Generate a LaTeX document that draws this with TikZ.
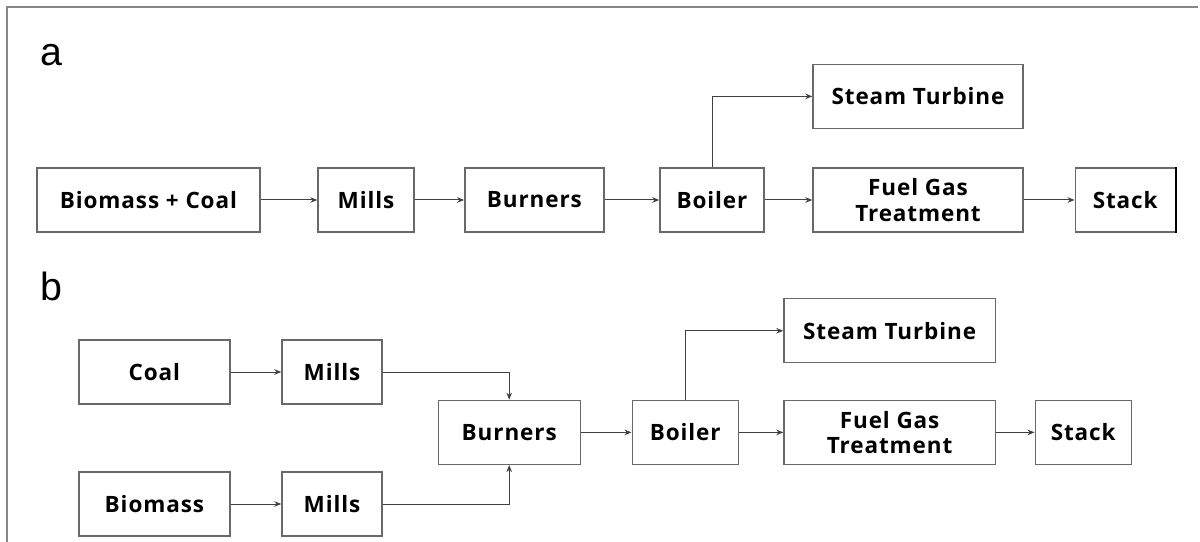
\documentclass[tikz,border=0pt]{standalone}
\usepackage{fontspec}
\setsansfont{Open Sans}[LetterSpace=4]
\newfontfamily\panelfont{Liberation Sans}
\usepackage{xcolor}
\usepackage{tikz}
\usetikzlibrary{positioning, arrows.meta}
\definecolor{boxgray}{RGB}{105,105,105}
\definecolor{framegray}{RGB}{135,135,135}

\begin{document}
\begin{tikzpicture}[
    unit/.style={rectangle, draw=boxgray, line width=1pt, fill=white, minimum height=1.6cm, align=center, font=\sffamily\bfseries\fontsize{16}{18}\selectfont},
    flow/.style={draw=black!75, line width=0.7pt, -{Stealth[length=5pt, width=4pt]}},
    panel/.style={inner sep=0pt, font=\panelfont\fontsize{28}{30}\selectfont}
  ]
    \useasboundingbox (0,0) rectangle (30,13.55);
    \draw[framegray, line width=1.4pt] (0.175,0) -- (0.175,13.375) -- (29.95,13.375);

    % a: co-firing in one line
    \node[panel] (la) at (1.28,12.17) {a};
    \node[unit, minimum width=5.58cm] (bc) at (3.71,8.55) {Biomass + Coal};
    \node[unit, minimum width=2.4cm] (mills) at (9.15,8.55) {Mills};
    \node[unit, minimum width=3.48cm] (burners) at (13.36,8.55) {Burners};
    \node[unit, minimum width=2.6cm] (boiler) at (17.8,8.55) {Boiler};
    \node[unit, minimum width=5.25cm] (turbine) at (22.95,11.14) {Steam Turbine};
    \node[unit, minimum width=5.25cm] (fgt) at (22.95,8.55) {Fuel Gas\\Treatment};
    \node[unit, minimum width=2.5cm] (stack) at (28.13,8.55) {Stack};
    \draw[black, line width=2pt] (stack.north east) -- (stack.south east);
    \draw[flow] (bc) -- (mills);
    \draw[flow] (mills) -- (burners);
    \draw[flow] (burners) -- (boiler);
    \draw[flow] (boiler) -- (fgt);
    \draw[flow] (fgt) -- (stack);
    \draw[flow] (boiler.north) |- (turbine.west);

    % b: separate milling
    \node[panel] (lb) at (1.28,6.38) {b};
    \node[unit, minimum width=3.78cm] (coal) at (3.86,4.25) {Coal};
    \node[unit, minimum width=2.5cm] (millsc) at (8.3,4.25) {Mills};
    \node[unit, minimum width=3.78cm] (biomass) at (3.86,0.95) {Biomass};
    \node[unit, minimum width=2.5cm] (millsb) at (8.3,0.95) {Mills};
    \node[unit, minimum width=3.55cm] (burnersb) at (12.73,2.74) {Burners};
    \node[unit, minimum width=2.65cm] (boilerb) at (17.13,2.74) {Boiler};
    \node[unit, minimum width=5.28cm] (turbineb) at (22.24,5.28) {Steam Turbine};
    \node[unit, minimum width=5.28cm] (fgtb) at (22.24,2.74) {Fuel Gas\\Treatment};
    \node[unit, minimum width=2.4cm] (stackb) at (27.08,2.74) {Stack};
    \draw[flow] (coal) -- (millsc);
    \draw[flow] (biomass) -- (millsb);
    \draw[flow] (millsc.east) -| (burnersb.north);
    \draw[flow] (millsb.east) -| (burnersb.south);
    \draw[flow] (burnersb) -- (boilerb);
    \draw[flow] (boilerb) -- (fgtb);
    \draw[flow] (fgtb) -- (stackb);
    \draw[flow] (boilerb.north) |- (turbineb.west);
  \end{tikzpicture}
\end{document}
